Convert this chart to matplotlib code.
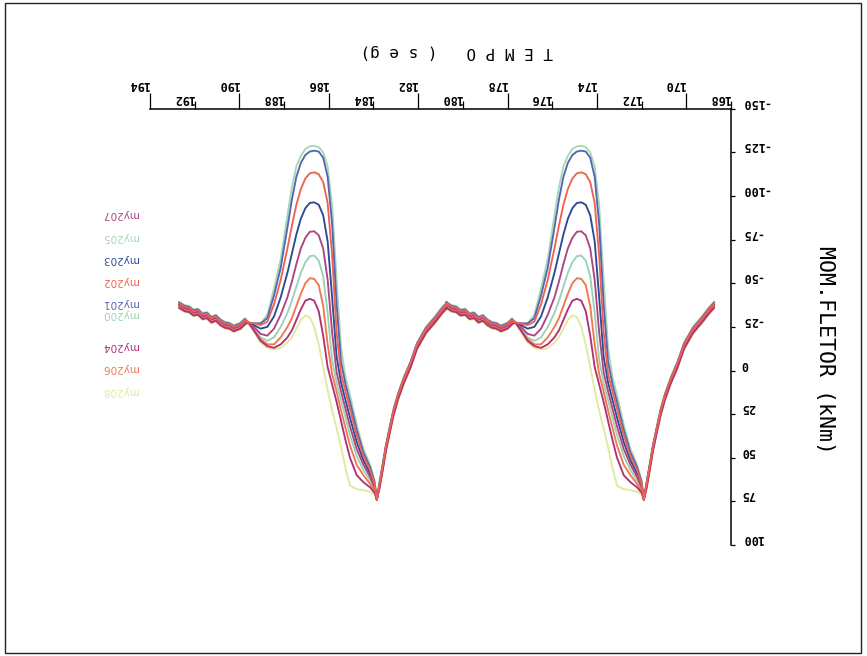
import matplotlib
matplotlib.use("Agg")
import matplotlib.pyplot as plt
import matplotlib.transforms as mtransforms
from matplotlib.patches import Rectangle

# ---------------------------------------------------------------------------
# Data: bending moment (kNm) recorded by nine gauges over two load cycles
# ---------------------------------------------------------------------------
trough_times = [171.9, 183.85]          # instant of the sharp trough in each cycle (s)

# rising branch shared by all gauges, time relative to the trough (s)
rise_dt = [-3.15, -2.9, -2.6, -2.2, -1.8, -1.5, -1.2, -0.95, -0.75, -0.58, -0.4, -0.27, -0.12]
rise_m = [-37.5, -34, -29, -23, -14, -3, 6, 15, 24, 34, 45, 55, 66]

# hump after the trough, sampled at the same relative times for every gauge
hump_dt = [0.0, 0.1, 0.3, 0.6, 0.9, 1.2, 1.4, 1.6, 1.8, 2.0, 2.2, 2.4, 2.6,
           2.8, 3.0, 3.2, 3.4, 3.6, 3.8, 4.0, 4.3, 4.6, 4.9, 5.2, 5.5, 5.75]
hump_my205 = [74, 63, 54, 45, 31, 14, 4, -13, -52, -95, -117, -125, -128,
              -128.8, -128.5, -127, -123, -117, -105, -89, -64, -47, -32, -27, -27, -27.5]
hump_my201 = [74, 64, 55.5, 47, 34, 18, 8, -5, -38, -84, -111, -122, -125.5,
              -126, -125.5, -123.5, -119, -111, -98, -82, -59, -43, -30, -27, -27, -27.5]
hump_my202 = [74, 65, 57, 49, 37, 22, 12, 2, -22, -66, -96, -108, -112.5,
              -113.6, -113, -110, -104, -95, -83, -70, -52, -38, -28, -26, -27, -27.5]
hump_my203 = [74, 66, 59, 51.5, 41, 27, 17, 7, -8, -42, -74, -89, -95,
              -96.4, -96, -93, -87, -78, -67, -56, -42, -31, -25, -24, -26, -27.5]
hump_my207 = [74, 67, 61, 54, 45, 32, 22, 12, 1, -22, -52, -70, -77.5,
              -79.8, -79.5, -76, -70, -61, -51, -42, -32, -24, -20, -21, -25, -27.5]
hump_my200 = [74, 68, 63, 57, 49, 37, 27, 17, 7, -6, -33, -54, -63,
              -65.9, -65.5, -62, -56, -48, -40, -33, -25, -19, -17, -19, -24, -27.5]
hump_my206 = [74, 69, 65, 60, 54, 43, 33, 23, 12, 2, -15, -37, -49,
              -52.5, -52.9, -50, -44, -37, -30, -25, -19, -15, -15, -18, -23, -27.5]
hump_my204 = [74, 70, 67, 64, 60, 50, 40, 29, 18, 8, -2, -20, -34,
              -40, -41.1, -40, -35, -29, -23, -19, -15, -13, -14, -17, -23, -27.5]
hump_my208 = [74, 71, 69.5, 68.5, 68, 66, 56, 44, 33, 23, 11, -2, -15,
              -25, -30.5, -31.6, -29, -24, -19, -16, -13, -12, -13, -16, -22, -27.5]

# wavy plateau between the hump and the next rise
plat_dt = [5.9, 6.1, 6.4, 6.6, 6.8, 7.0, 7.2, 7.4, 7.6, 7.8, 8.0, 8.2, 8.4, 8.6, 8.85]
plat_m = [-28, -25.5, -24, -25.5, -26, -27.5, -30, -29, -31.5, -31, -33.5, -33, -35, -35.5, -37.5]

gauges = ["my205", "my201", "my202", "my203", "my207", "my200", "my206", "my204", "my208"]
humps = [hump_my205, hump_my201, hump_my202, hump_my203, hump_my207,
         hump_my200, hump_my206, hump_my204, hump_my208]
baseline_shift = [-2.0, -1.5, -1.0, -0.5, 0.0, 0.5, 1.0, 1.5, 2.0]   # kNm, per gauge

x_major = [194, 190, 186, 182, 178, 174, 170]
x_minor = [192, 188, 184, 180, 176, 172, 168]
y_ticks = [-150, -125, -100, -75, -50, -25, 0, 25, 50, 75, 100]

colors = {
    "my205": "#a6d8b4",
    "my201": "#5565b4",
    "my202": "#ee634f",
    "my203": "#2c4a94",
    "my207": "#ad4583",
    "my200": "#9bd2b6",
    "my206": "#f0774f",
    "my204": "#b03275",
    "my208": "#e2e8a4",
}
# stacking of the traces (later ones drawn on top)
draw_rank = {"my208": 1, "my205": 2, "my200": 3, "my201": 4, "my203": 5,
             "my207": 6, "my206": 7, "my204": 8, "my202": 9}

# ---------------------------------------------------------------------------
W, H = 867, 656
fig = plt.figure(figsize=(W / 100, H / 100), dpi=100)
fig.patch.set_facecolor("white")

ax_l, ax_r, ax_t, ax_b = 150, 731, 108.8, 545
ax = fig.add_axes([ax_l / W, (H - ax_b) / H, (ax_r - ax_l) / W, (ax_b - ax_t) / H])

for name, hump, shift in zip(gauges, humps, baseline_shift):
    t_all, m_all = [], []
    for T in trough_times:
        t_all += [T + d for d in rise_dt] + [T + d for d in hump_dt] + [T + d for d in plat_dt]
        m_all += [m + shift for m in rise_m] + list(hump) + [m + shift for m in plat_m]
    ax.plot(t_all, m_all, color=colors[name], lw=1.35, solid_joinstyle="round",
            solid_capstyle="round", zorder=2 + 0.1 * draw_rank[name])

# whole sheet is shown turned upside down: reversed axes, spines top/right
ax.set_xlim(194, 168)
ax.set_ylim(100, -150)
for side in ("left", "bottom"):
    ax.spines[side].set_visible(False)
for side in ("top", "right"):
    ax.spines[side].set_linewidth(1.1)
    ax.spines[side].set_color("black")

ax.xaxis.tick_top()
ax.yaxis.tick_right()
ax.set_xticks(x_major)
ax.set_xticks(x_minor, minor=True)
ax.set_yticks(y_ticks)
ax.tick_params(axis="x", which="major", direction="out", length=11.5, width=0.9,
               labeltop=False, labelbottom=False)
ax.tick_params(axis="x", which="minor", direction="out", length=5.8, width=0.9)
ax.tick_params(axis="y", direction="out", length=3, width=0.9,
               labelright=False, labelleft=False)

mono = "DejaVu Sans Mono"
xt = ax.get_xaxis_transform()
for v in x_major:
    ax.text(v, 1, str(v), transform=mtransforms.offset_copy(xt, fig=fig, x=-1, y=24, units="dots"),
            rotation=180, rotation_mode="anchor", ha="left", va="center",
            family=mono, fontsize=8.5, fontweight="bold", color="black")
for v in x_minor:
    ax.text(v, 1, str(v), transform=mtransforms.offset_copy(xt, fig=fig, x=-1, y=10, units="dots"),
            rotation=180, rotation_mode="anchor", ha="left", va="center",
            family=mono, fontsize=8.5, fontweight="bold", color="black")

yt = ax.get_yaxis_transform()
for v in y_ticks:
    ax.text(1, v, str(v), transform=mtransforms.offset_copy(yt, fig=fig, x=10, y=0, units="dots"),
            rotation=180, rotation_mode="anchor", ha="right", va="top",
            family=mono, fontsize=8.5, fontweight="bold", color="black")

# axis titles
fig.text(457 / W, 1 - 52 / H, "T E M P O   ( s e g)", rotation=180, ha="center", va="center",
         family=mono, fontsize=11.5, color="black")
fig.text(825 / W, 1 - 350 / H, "MOM.FLETOR (kNm)", rotation=270, ha="center", va="center",
         family=mono, fontsize=15.5, color="black")

# gauge names
legend_order = ["my207", "my205", "my203", "my202", "my201", "my200", "my204", "my206", "my208"]
legend_y = [214, 237, 259, 281, 303, 314, 346, 368, 391]
for name, ypix in zip(legend_order, legend_y):
    fig.text(138 / W, 1 - ypix / H, name, rotation=180, rotation_mode="anchor",
             ha="left", va="center", fontsize=7.5, color=colors[name])

# sheet frame
fig.add_artist(Rectangle((5 / W, 3 / H), (861 - 5) / W, (653 - 3) / H,
                         transform=fig.transFigure, fill=False, lw=1.0, ec="#222222"))

fig.savefig("out.png", dpi=100)
